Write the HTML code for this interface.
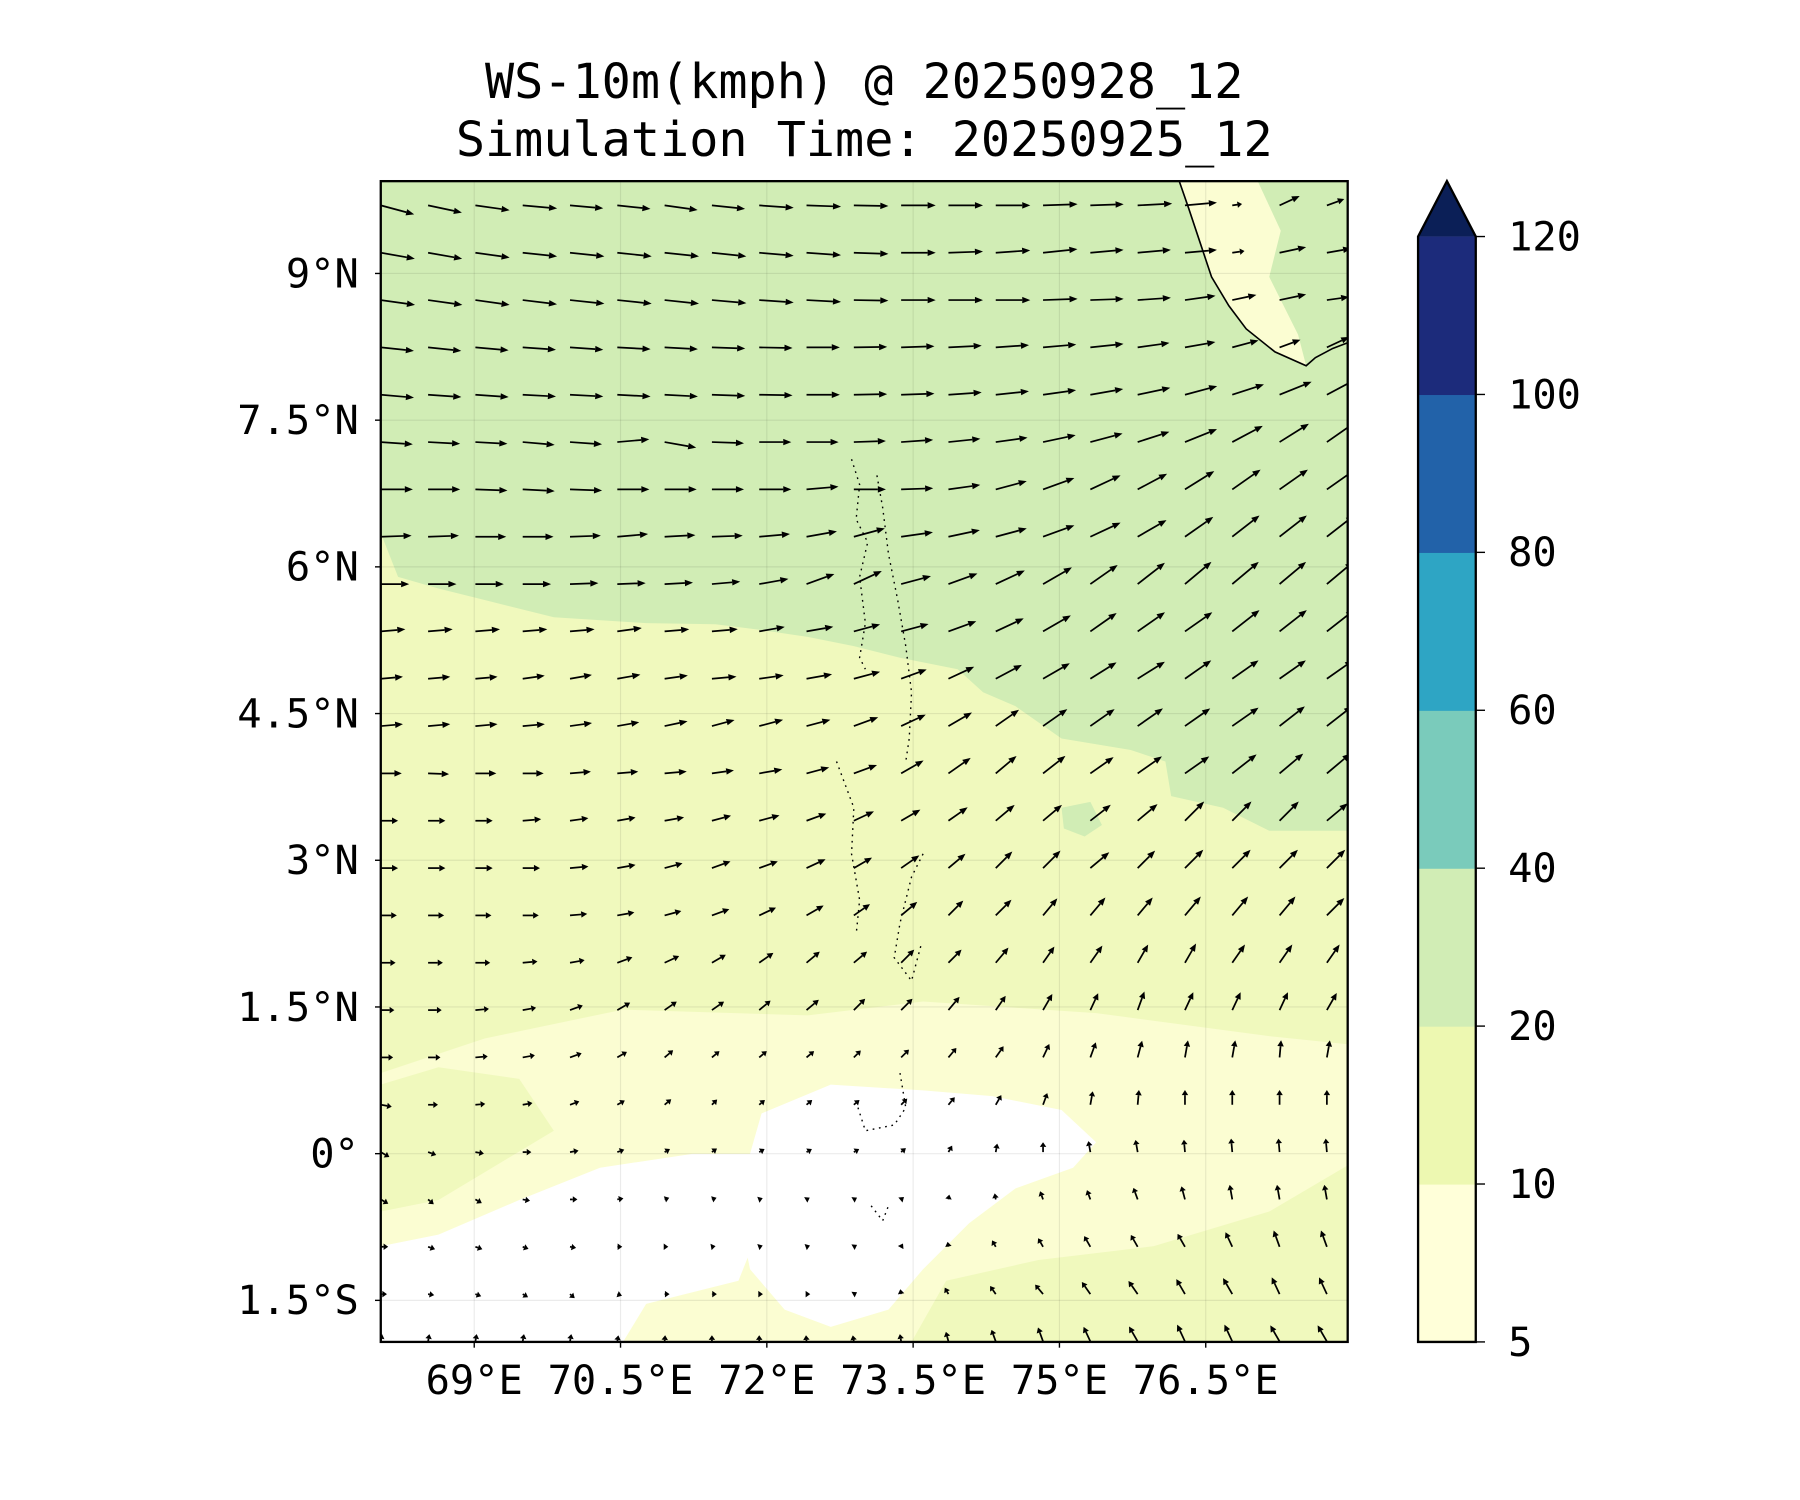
<!DOCTYPE html>
<html><head><meta charset="utf-8"><style>
html,body{margin:0;padding:0;background:#fff;}
svg{display:block;font-family:"DejaVu Sans Mono","Liberation Mono",monospace;}
</style></head><body>
<svg id="chart" width="1800" height="1500" viewBox="0 0 1560 1300" xmlns="http://www.w3.org/2000/svg">
<defs><clipPath id="mapclip"><rect x="330" y="157" width="838" height="1006"/></clipPath></defs>
<g text-anchor="middle" fill="#000">
<text x="749" y="85" font-size="42">WS-10m(kmph) @ 20250928_12</text>
<text x="749" y="135" font-size="42">Simulation Time: 20250925_12</text>
</g>
<g id="mapArea" clip-path="url(#mapclip)">
<rect x="330" y="157" width="838" height="1006" fill="#f0f9bd"/>
<path fill="#d1edb5" d="M330,157 L1168,157 L1168,720 L1100,720 L1060,700 L1015,690 L1010,660 L980,650 L920,640 L880,612 L852,600 L830,580 L780,570 L740,560 L700,552 L660,546 L620,541 L560,540 L480,535 L420,520 L380,510 L345,500 L330,462 Z"/>
<path fill="#d1edb5" d="M920,700 L945,695 L955,715 L940,725 L922,718 Z"/>
<path fill="#fbfdd2" d="M330,930 L420,900 L540,875 L700,880 L800,868 L950,878 L1100,898 L1168,905 L1168,1010 L1100,1050 L1000,1080 L900,1092 L820,1110 L790,1163 L330,1163 Z"/>
<path fill="#f0f9bd" d="M330,940 L380,925 L450,935 L480,980 L430,1010 L380,1040 L330,1050 Z"/>
<path fill="#ffffff" d="M660,965 L720,940 L800,945 L860,950 L920,962 L950,990 L930,1012 L880,1030 L840,1060 L800,1100 L770,1135 L720,1150 L680,1135 L650,1100 L640,1050 L650,1000 Z"/>
<path fill="#ffffff" d="M330,1080 L380,1070 L450,1040 L520,1012 L600,1000 L650,1000 L660,1060 L640,1110 L560,1130 L540,1163 L330,1163 Z"/>
<path fill="#fbfdd2" d="M1022,157 L1090,157 L1110,200 L1100,240 L1125,290 L1132,317 L1105,305 L1080,285 L1065,265 L1050,240 L1040,210 L1030,180 Z"/>
<path fill="none" stroke="#000" stroke-width="1.4" d="M1022,157 L1030,180 L1040,210 L1050,240 L1065,265 L1080,285 L1105,305 L1132,317 L1140,310 L1155,302 L1168,297"/>
<g id="grid" stroke="#000" stroke-opacity="0.08" stroke-width="1"></g>
<g fill="none" stroke="#000" stroke-width="1.2" stroke-dasharray="1.5 4">
<path d="M738,398 L745,420 L742,450 L752,470 L745,500 L750,540 L745,570 L750,580"/>
<path d="M760,412 L765,440 L770,480 L778,520 L785,560 L790,600 L788,640 L785,660"/>
<path d="M725,660 L740,700 L738,740 L745,780 L742,810"/>
<path d="M800,740 L790,760 L780,800 L775,830 L790,850 L798,820"/>
<path d="M780,930 L785,960 L775,975 L750,980 L742,955"/>
<path d="M755,1045 L765,1058 L770,1045"/>
</g>
<g id="quiver"></g>
</g>
<rect x="330" y="157" width="838" height="1006" fill="none" stroke="#000" stroke-width="2"/>
<g id="axes" font-size="35" fill="#000"></g>
<g id="cbar" font-size="35"></g>
</svg>
<script>
const lonTicks=[69,70.5,72,73.5,75,76.5];
const lonLabels=["69°E","70.5°E","72°E","73.5°E","75°E","76.5°E"];
const latTicks=[9,7.5,6,4.5,3,1.5,0,-1.5];
const latLabels=["9°N","7.5°N","6°N","4.5°N","3°N","1.5°N","0°","1.5°S"];
const cbLevels=[5,10,20,40,60,80,100,120];
const cbColors=["#ffffd9","#edf8b1","#d1edb5","#7acbbb","#2ea5c4","#2262a9","#1c2b7b"];
const cbExtendColor="#0b1f57";
const gridLon0=68.042, gridLonStep=0.485, gridLat0=9.696, gridLatStep=0.484;
const windDir=[
[-15,-12,-8,-5,-5,-6,-8,-6,-4,-2,-1,0,0,0,2,2,3,5,8,25,20],
[-10,-10,-8,-6,-6,-6,-6,-6,-5,-4,-2,0,2,4,6,5,5,5,8,12,10],
[-8,-8,-8,-7,-6,-6,-6,-5,-4,-3,-1,0,0,0,2,2,4,8,12,12,8],
[-6,-6,-5,-4,-4,-3,-3,-2,-1,0,1,2,3,4,5,6,8,10,15,20,25],
[-5,-4,-4,-3,-3,-3,-3,-2,-1,0,1,2,4,6,8,10,12,15,18,22,28],
[-4,-3,-3,-5,-4,5,-10,-2,0,0,2,4,6,8,12,15,18,22,28,32,35],
[0,0,-2,-3,-2,0,0,0,0,5,0,2,8,15,20,25,28,32,35,35,35],
[2,2,0,0,2,5,3,2,5,10,15,8,12,15,20,25,30,35,38,38,38],
[0,0,0,0,2,2,3,5,10,20,25,15,20,25,30,35,38,40,40,40,40],
[5,5,5,5,5,8,5,5,10,10,15,15,20,25,30,35,35,35,38,38,38],
[5,5,5,8,10,10,8,5,8,10,15,20,25,28,30,32,32,35,35,35,35],
[5,5,5,5,8,10,12,15,15,15,20,25,30,35,35,35,35,35,35,38,38],
[0,-2,0,0,5,5,5,8,10,15,20,30,35,40,38,35,35,35,38,40,40],
[0,0,0,5,8,10,10,15,15,20,25,30,35,40,40,38,40,45,45,45,40],
[0,0,0,0,5,10,15,20,20,25,30,35,40,45,45,40,45,45,45,45,45],
[0,0,0,0,5,10,15,20,25,30,35,40,45,45,50,50,50,50,50,50,45],
[0,0,0,5,10,20,25,30,35,40,40,45,45,50,55,55,60,60,55,55,55],
[0,0,5,10,20,30,35,35,40,40,45,45,50,55,60,65,70,65,65,65,60],
[0,0,5,10,20,30,40,40,40,40,45,45,50,55,65,70,75,80,80,85,80],
[-10,0,5,10,20,30,40,45,40,40,40,45,50,60,70,80,85,90,90,90,90],
[-30,-20,-10,0,10,20,30,35,30,30,30,40,60,80,90,100,100,95,95,95,95],
[-30,-40,-30,-10,0,10,20,20,20,30,30,40,80,100,110,110,110,105,100,100,100],
[0,-20,-20,-20,-10,0,0,10,20,20,30,60,100,120,120,120,120,120,115,110,110],
[0,-10,-20,-30,-40,-20,0,0,0,0,30,100,120,125,130,125,125,120,120,115,115],
[80,80,80,80,80,80,85,90,90,95,100,100,105,110,110,115,120,115,115,120,120]
];
const windSpd=[
[28,28,28,28,27,27,27,27,28,28,28,28,28,28,28,27,28,26,8,18,15],
[28,28,28,28,28,28,28,28,28,28,28,28,28,28,28,27,27,26,10,22,20],
[28,28,28,28,28,28,28,28,28,28,28,28,28,28,28,27,27,25,20,22,18],
[27,27,27,27,27,27,27,27,27,27,27,27,27,27,27,27,26,25,22,18,20],
[27,27,27,27,27,27,27,27,27,27,27,27,27,27,27,27,27,27,27,28,28],
[26,26,26,26,26,26,26,26,26,26,26,26,26,26,27,27,27,28,28,28,28],
[26,26,26,26,26,26,26,26,26,26,26,26,26,26,27,27,27,28,28,28,28],
[25,25,25,25,25,25,25,25,25,25,26,26,26,26,27,27,27,28,28,28,28],
[23,23,23,23,23,23,23,23,24,24,25,25,25,26,27,27,28,28,28,28,28],
[20,20,20,20,20,20,20,21,21,22,22,23,24,25,26,26,27,27,28,28,28],
[18,18,18,18,18,19,19,20,20,21,22,22,23,24,25,25,26,26,26,26,26],
[18,18,18,18,18,18,19,19,20,20,21,22,22,23,24,24,25,25,26,26,26],
[17,17,17,17,17,17,18,18,19,19,20,21,22,22,23,23,24,24,25,25,25],
[14,14,14,15,15,15,16,16,17,17,18,18,19,20,20,21,21,22,22,22,22],
[14,14,14,14,15,15,15,16,16,17,17,18,18,19,20,20,20,21,21,21,21],
[13,13,13,13,14,14,14,15,15,16,16,17,17,18,18,19,19,20,20,20,20],
[12,12,12,12,12,13,13,13,14,14,14,15,15,16,16,17,17,18,18,18,18],
[11,11,11,11,11,12,12,12,12,13,13,13,14,14,15,15,16,16,16,16,16],
[10,10,10,10,10,9,9,8,8,8,8,9,10,11,12,13,14,14,14,14,14],
[9,8,8,8,8,7,7,6,6,6,6,7,8,9,10,11,12,12,12,12,12],
[8,7,7,7,7,6,5,5,5,5,5,5,6,7,8,9,10,10,11,11,11],
[7,6,6,6,6,5,4,4,3,3,3,3,4,5,7,8,10,11,12,12,12],
[6,6,6,5,5,4,3,3,3,3,3,3,4,6,8,10,11,12,13,14,14],
[5,5,5,5,5,4,4,4,3,3,3,4,6,8,10,12,13,14,15,15,15],
[6,6,6,6,6,5,5,5,5,5,5,6,8,10,12,13,14,15,15,15,15]
];
const NS="http://www.w3.org/2000/svg";
function xOf(lon){return 411+(lon-69)*84.53;}
function yOf(lat){return 237-(lat-9)*84.76;}
const pxPerKmph=1.07;
function mk(tag,attrs,parent){const e=document.createElementNS(NS,tag);for(const k in attrs)e.setAttribute(k,attrs[k]);parent.appendChild(e);return e;}
const grid=document.getElementById('grid');
lonTicks.forEach(l=>{const e=mk('line',{x1:xOf(l),x2:xOf(l),y1:157,y2:1163},grid);

});
latTicks.forEach(l=>{const e=mk('line',{x1:330,x2:1168,y1:yOf(l),y2:yOf(l)},grid);

});
const q=document.getElementById('quiver');
windDir.forEach((row,r)=>{row.forEach((ang,c)=>{
 const lon=gridLon0+c*gridLonStep, lat=gridLat0-r*gridLatStep;
 const x0=xOf(lon), y0=yOf(lat);
 const L=windSpd[r][c]*pxPerKmph; const a=ang*Math.PI/180;
 const dx=Math.cos(a), dy=-Math.sin(a);
 const hl=Math.min(7,Math.max(4,L*0.35)), hw=2.8;
 const x1=x0+dx*L, y1=y0+dy*L;
 const bx=x1-dx*hl, by=y1-dy*hl;
 const g=mk('g',{},q);
 
 
 if(L>hl) mk('line',{x1:x0,y1:y0,x2:bx,y2:by,stroke:'#000','stroke-width':1.5},g);
 mk('polygon',{points:`${x1},${y1} ${bx-dy*hw},${by+dx*hw} ${bx+dy*hw},${by-dx*hw}`,fill:'#000'},g);
});});
const ax=document.getElementById('axes');
lonTicks.forEach((l,i)=>{
 const t=mk('line',{x1:xOf(l),x2:xOf(l),y1:1163,y2:1168,stroke:'#000','stroke-width':1.2},ax);
 
 
 const tx=mk('text',{x:xOf(l),y:1208,'text-anchor':'middle'},ax);tx.textContent=lonLabels[i];
 
 
});
latTicks.forEach((l,i)=>{
 const t=mk('line',{x1:325,x2:330,y1:yOf(l),y2:yOf(l),stroke:'#000','stroke-width':1.2},ax);
 
 
 const tx=mk('text',{x:311,y:yOf(l)+12,'text-anchor':'end'},ax);tx.textContent=latLabels[i];
 
 
});
const cb=document.getElementById('cbar');
const cbTop=205,cbBot=1163,cbX=1229,cbW=50;
const seg=(cbBot-cbTop)/(cbLevels.length-1);
cbColors.forEach((col,i)=>{
 const r=mk('rect',{x:cbX,y:cbBot-(i+1)*seg,width:cbW,height:seg+0.5,fill:col},cb);
 
 
});
const tri=mk('polygon',{points:`${cbX},${cbTop} ${cbX+cbW/2},157 ${cbX+cbW},${cbTop}`,fill:cbExtendColor},cb);


const outl=mk('path',{d:`M${cbX},${cbBot} L${cbX},${cbTop} L${cbX+cbW/2},157 L${cbX+cbW},${cbTop} L${cbX+cbW},${cbBot} Z`,fill:'none',stroke:'#000','stroke-width':2},cb);


cbLevels.forEach((v,i)=>{
 const y=cbBot-i*seg;
 const t=mk('line',{x1:cbX+cbW,x2:cbX+cbW+8,y1:y,y2:y,stroke:'#000','stroke-width':1.2},cb);
 
 
 const tx=mk('text',{x:1307,y:y+12},cb);tx.textContent=v;
 
 
});
</script>
</body></html>
